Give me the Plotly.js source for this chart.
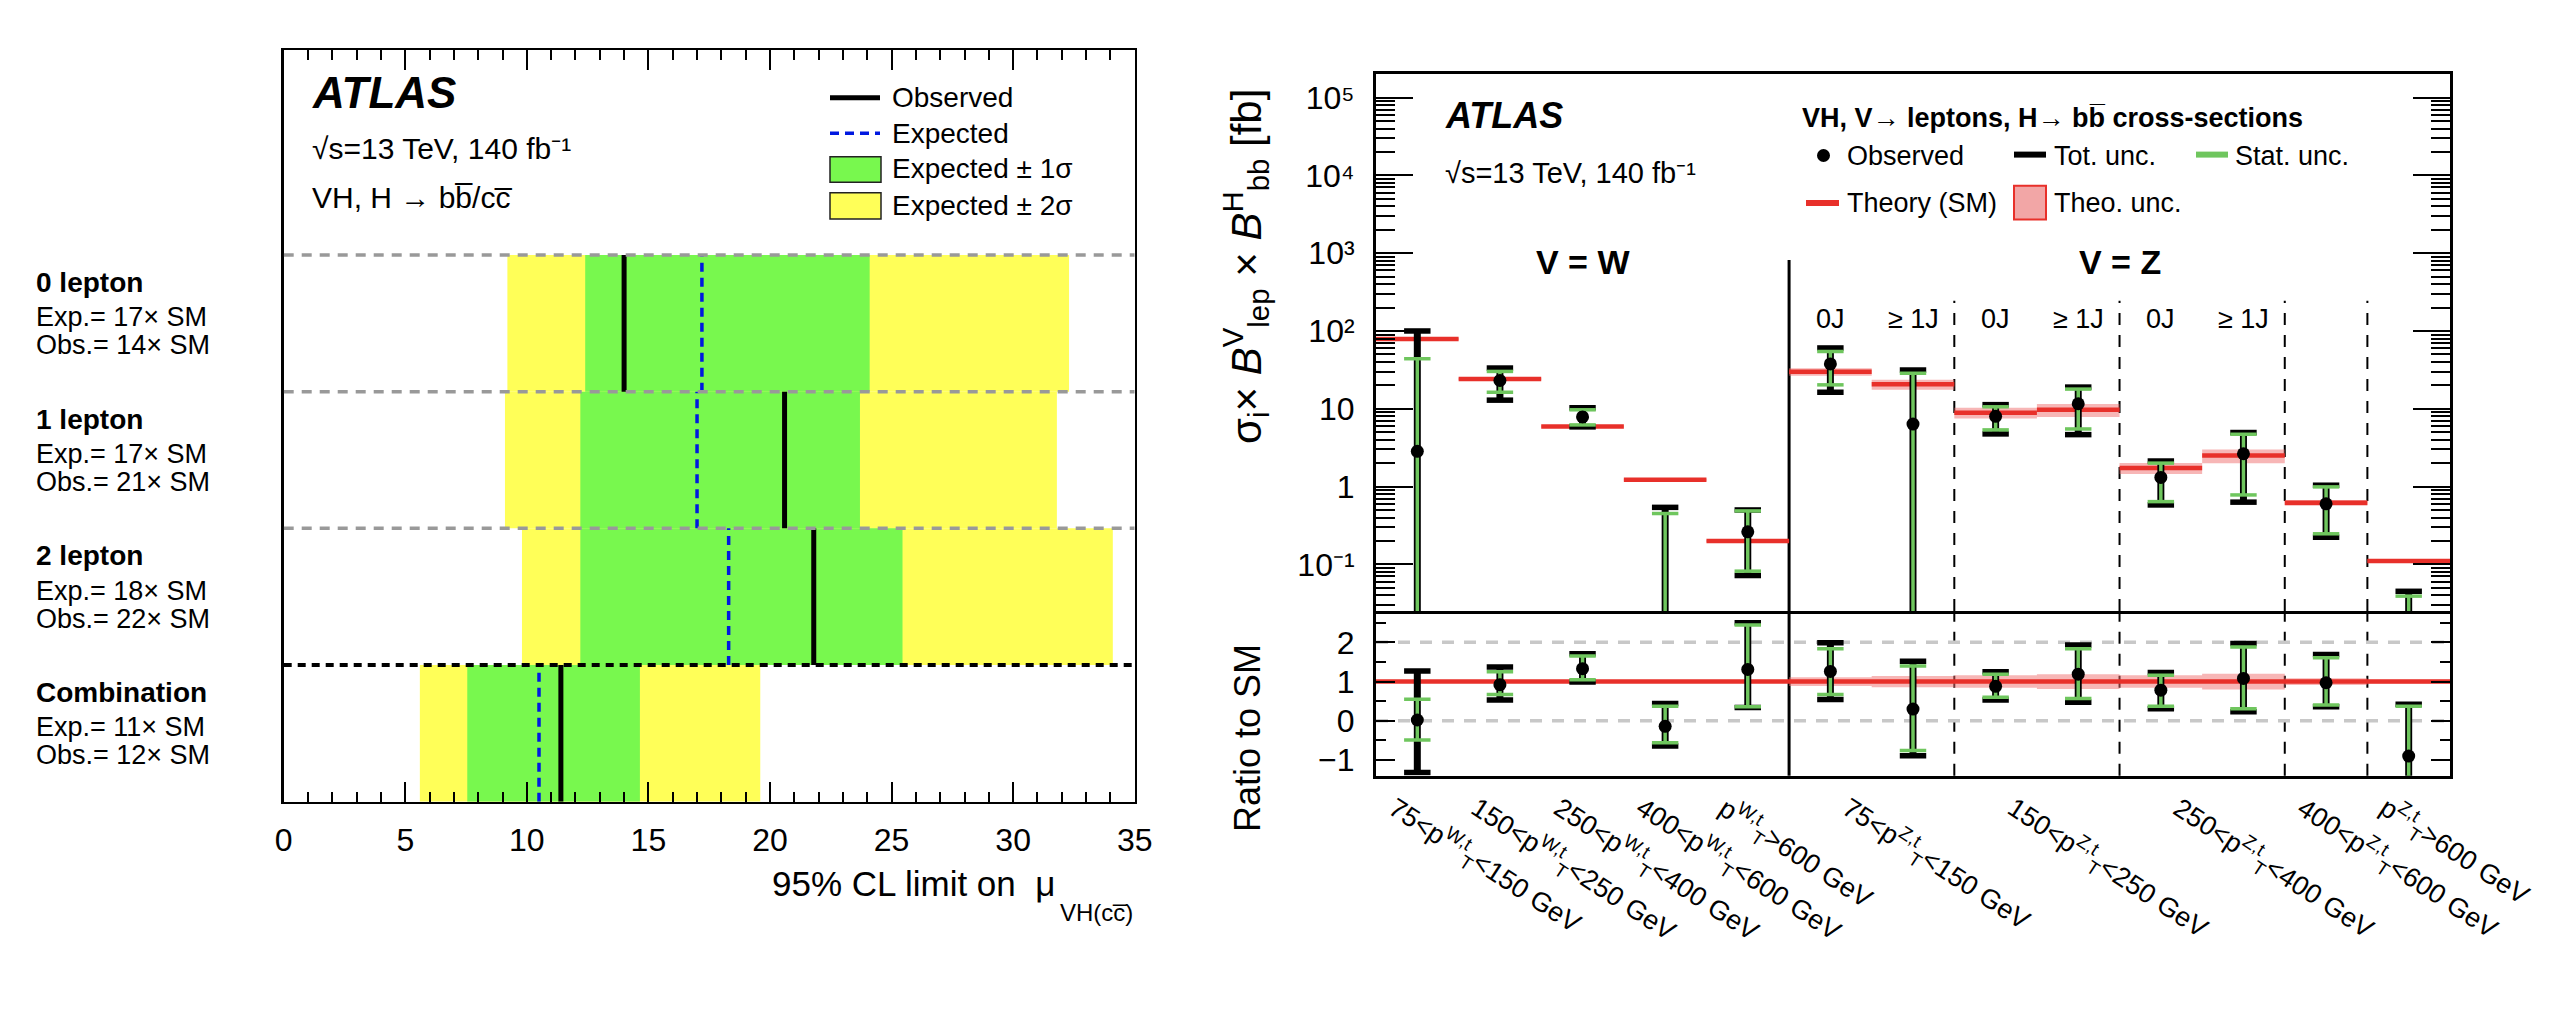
<!DOCTYPE html>
<html>
<head>
<meta charset="utf-8">
<script src="https://cdn.plot.ly/plotly-3.0.1.min.js"></script>
<style>html,body{margin:0;padding:0;background:#fff;}#plot{width:2560px;height:1024px;}</style>
</head>
<body>
<div id="plot"></div>
<script>
// ---------------- LEFT PANEL DATA (95% CL limits on mu_VH(cc)) ----------------
const rowNames   = ['0 lepton', '1 lepton', '2 lepton', 'Combination'];
const expSM      = [17, 17, 18, 11];
const obsSM      = [14, 21, 22, 12];
const expLimit   = [17.2, 17.0, 18.3, 10.5];
const obsLimit   = [14.0, 20.6, 21.8, 11.4];
const sig1Lo     = [12.4, 12.2, 12.2, 7.55];
const sig1Hi     = [24.1, 23.7, 25.45, 14.65];
const sig2Lo     = [9.2, 9.1, 9.8, 5.6];
const sig2Hi     = [32.3, 31.8, 34.1, 19.6];
const limitTicks = [0, 5, 10, 15, 20, 25, 30, 35];

// ---------------- RIGHT PANEL DATA (VH, H->bb cross-sections) ----------------
const binNames = ['W 75-150', 'W 150-250', 'W 250-400', 'W 400-600', 'W >600',
                  'Z 75-150 0J', 'Z 75-150 >=1J', 'Z 150-250 0J', 'Z 150-250 >=1J',
                  'Z 250-400 0J', 'Z 250-400 >=1J', 'Z 400-600', 'Z >600'];
const jetLabels = ['', '', '', '', '', '0J', '\u2265 1J', '0J', '\u2265 1J', '0J', '\u2265 1J', '', ''];
const theoryXS  = [79, 24.2, 5.9, 1.22, 0.199, 29.9, 20.6, 8.9, 9.7, 1.73, 2.5, 0.618, 0.11];
const theoUnc   = [0.03, 0.03, 0.03, 0.03, 0.03, 0.11, 0.145, 0.16, 0.19, 0.16, 0.2, 0.085, 0.05];
const xsObs     = [2.84, 23.1, 7.85, null, 0.262, 37.7, 6.35, 8.0, 11.6, 1.31, 2.64, 0.60, null];
const xsTotHi   = [100, 33.4, 10.3, 0.54, 0.50, 60.5, 31.5, 11.3, 19.0, 2.13, 4.95, 1.04, 0.045];
const xsTotLo   = [null, 12.9, 5.85, null, 0.0718, 16.3, null, 4.75, 4.65, 0.58, 0.63, 0.223, null];
const xsStatHi  = [44, 30.2, 9.7, 0.45, 0.486, 54.5, 28.6, 10.6, 17.9, 2.0, 4.7, 0.99, 0.039];
const xsStatLo  = [null, 16.3, 6.2, null, 0.0817, 20.3, null, 5.35, 5.5, 0.64, 0.78, 0.247, null];
const rObs      = [0.02, 0.92, 1.33, -0.14, 1.31, 1.26, 0.30, 0.88, 1.19, 0.78, 1.08, 0.97, -0.90];
const rTotHi    = [1.27, 1.37, 1.71, 0.44, 2.50, 1.99, 1.52, 1.25, 1.93, 1.23, 1.97, 1.69, 0.42];
const rTotLo    = [-1.32, 0.53, 0.99, -0.64, 0.34, 0.54, -0.89, 0.53, 0.47, 0.31, 0.23, 0.36, null];
const rStatHi   = [0.55, 1.25, 1.65, 0.37, 2.44, 1.84, 1.40, 1.19, 1.84, 1.16, 1.88, 1.61, 0.37];
const rStatLo   = [-0.49, 0.67, 1.05, -0.56, 0.36, 0.67, -0.76, 0.60, 0.57, 0.37, 0.31, 0.40, null];
// x-axis label groups (first bin, last bin+1)
const labelGroups = [[0,1],[1,2],[2,3],[3,4],[4,5],[5,7],[7,9],[9,11],[11,12],[12,13]];
const labelTexts = [
  '75&lt;p<sup>W,t</sup><sub>T</sub>&lt;150 GeV',
  '150&lt;p<sup>W,t</sup><sub>T</sub>&lt;250 GeV',
  '250&lt;p<sup>W,t</sup><sub>T</sub>&lt;400 GeV',
  '400&lt;p<sup>W,t</sup><sub>T</sub>&lt;600 GeV',
  'p<sup>W,t</sup><sub>T</sub>&gt;600 GeV',
  '75&lt;p<sup>Z,t</sup><sub>T</sub>&lt;150 GeV',
  '150&lt;p<sup>Z,t</sup><sub>T</sub>&lt;250 GeV',
  '250&lt;p<sup>Z,t</sup><sub>T</sub>&lt;400 GeV',
  '400&lt;p<sup>Z,t</sup><sub>T</sub>&lt;600 GeV',
  'p<sup>Z,t</sup><sub>T</sub>&gt;600 GeV'
];
const logTickVals = [0.1, 1, 10, 100, 1000, 10000, 100000];
const logTickText = ['10\u207B\u00B9', '1', '10', '10\u00B2', '10\u00B3', '10\u2074', '10\u2075'];
const ratioTickVals = [-1, 0, 1, 2];
const ratioTickText = ['\u22121', '0', '1', '2'];
const ratioRefLines = [0, 2];
const dividers = [5, 7, 9, 11, 12];   // first is the W/Z boundary (solid)
const vGroups = [{text: 'V = W', first: 0, last: 5}, {text: 'V = Z', first: 5, last: 13}];

// ---------------- helpers ----------------
const W = 2560, H = 1024;
const px = x => x / W;
const py = y => 1 - y / H;
const FONT = 'Liberation Sans, Arial, Helvetica, sans-serif';
const GREEN1 = '#78f84e', YELLOW2 = '#ffff58', STAT = '#6fc65e', RED = '#e8302a', PINK = 'rgba(240,110,110,0.5)';

const nBins = binNames.length;
const centers = binNames.map((_, i) => i + 0.5);

function vsegs(lo, hi, fallback) {
  const x = [], y = [];
  centers.forEach((c, i) => {
    if (hi[i] == null) return;
    x.push(c, c, null);
    y.push(lo[i] == null ? fallback : lo[i], hi[i], null);
  });
  return {x, y};
}
function caps(vals, hw) {
  const x = [], y = [];
  centers.forEach((c, i) => {
    if (vals[i] == null) return;
    x.push(c - hw, c + hw, null);
    y.push(vals[i], vals[i], null);
  });
  return {x, y};
}
function errTraces(lo, hi, slo, shi, obs, xa, ya, fallback) {
  const hw = 0.16;
  const out = [];
  const t = vsegs(lo, hi, fallback);
  out.push({type: 'scatter', mode: 'lines', x: t.x, y: t.y, xaxis: xa, yaxis: ya, line: {color: '#000', width: 7}, hoverinfo: 'skip'});
  const tc1 = caps(hi, hw), tc2 = caps(lo, hw);
  out.push({type: 'scatter', mode: 'lines', x: tc1.x.concat(tc2.x), y: tc1.y.concat(tc2.y), xaxis: xa, yaxis: ya, line: {color: '#000', width: 5.5}, hoverinfo: 'skip'});
  const s = vsegs(slo, shi, fallback);
  out.push({type: 'scatter', mode: 'lines', x: s.x, y: s.y, xaxis: xa, yaxis: ya, line: {color: STAT, width: 3.5}, hoverinfo: 'skip'});
  const sc1 = caps(shi, hw), sc2 = caps(slo, hw);
  out.push({type: 'scatter', mode: 'lines', x: sc1.x.concat(sc2.x), y: sc1.y.concat(sc2.y), xaxis: xa, yaxis: ya, line: {color: STAT, width: 3.5}, hoverinfo: 'skip'});
  out.push({type: 'scatter', mode: 'markers', x: centers, y: obs, xaxis: xa, yaxis: ya, marker: {color: '#000', size: 13}, hoverinfo: 'skip'});
  return out;
}

const traces = [];

// ---------------- LEFT PANEL TRACES ----------------
const nRows = rowNames.length;
const rowY = rowNames.map((_, i) => nRows - i - 0.5);
traces.push({type: 'bar', orientation: 'h', y: rowY, base: sig2Lo, x: sig2Hi.map((h, i) => h - sig2Lo[i]),
  width: 1, marker: {color: YELLOW2, line: {width: 0}}, xaxis: 'x', yaxis: 'y', hoverinfo: 'skip'});
traces.push({type: 'bar', orientation: 'h', y: rowY, base: sig1Lo, x: sig1Hi.map((h, i) => h - sig1Lo[i]),
  width: 1, marker: {color: GREEN1, line: {width: 0}}, xaxis: 'x', yaxis: 'y', hoverinfo: 'skip'});
(function () {
  const ex = [], ey = [], ox = [], oy = [];
  rowY.forEach((yc, i) => {
    ex.push(expLimit[i], expLimit[i], null); ey.push(yc - 0.5, yc + 0.5, null);
    ox.push(obsLimit[i], obsLimit[i], null); oy.push(yc - 0.5, yc + 0.5, null);
  });
  traces.push({type: 'scatter', mode: 'lines', x: ex, y: ey, xaxis: 'x', yaxis: 'y', line: {color: '#0018e0', width: 3.5, dash: '9px,6px'}, hoverinfo: 'skip'});
  traces.push({type: 'scatter', mode: 'lines', x: ox, y: oy, xaxis: 'x', yaxis: 'y', line: {color: '#000', width: 5}, hoverinfo: 'skip'});
})();

// ---------------- RIGHT PANEL TRACES ----------------
(function () {
  const bx = [], by = [], rx = [], ry = [], lx = [], ly = [], rlx = [], rly = [];
  centers.forEach((c, i) => {
    const a = c - 0.5, b = c + 0.5, t = theoryXS[i], u = theoUnc[i];
    bx.push(a, b, b, a, a, null); by.push(t * (1 - u), t * (1 - u), t * (1 + u), t * (1 + u), t * (1 - u), null);
    rx.push(a, b, b, a, a, null); ry.push(1 - u, 1 - u, 1 + u, 1 + u, 1 - u, null);
    lx.push(a, b, null); ly.push(t, t, null);
    rlx.push(a, b); rly.push(1, 1);
  });
  traces.push({type: 'scatter', mode: 'lines', x: bx, y: by, fill: 'toself', fillcolor: PINK, line: {width: 0}, xaxis: 'x2', yaxis: 'y2', hoverinfo: 'skip'});
  traces.push({type: 'scatter', mode: 'lines', x: lx, y: ly, line: {color: RED, width: 4.5}, xaxis: 'x2', yaxis: 'y2', hoverinfo: 'skip'});
  traces.push({type: 'scatter', mode: 'lines', x: rx, y: ry, fill: 'toself', fillcolor: PINK, line: {width: 0}, xaxis: 'x3', yaxis: 'y3', hoverinfo: 'skip'});
  traces.push({type: 'scatter', mode: 'lines', x: rlx, y: rly, line: {color: RED, width: 4.5}, xaxis: 'x3', yaxis: 'y3', hoverinfo: 'skip'});
})();
errTraces(xsTotLo, xsTotHi, xsStatLo, xsStatHi, xsObs, 'x2', 'y2', 1e-3).forEach(t => traces.push(t));
errTraces(rTotLo, rTotHi, rStatLo, rStatHi, rObs, 'x3', 'y3', -5).forEach(t => traces.push(t));

// ---------------- SHAPES ----------------
const shapes = [];
rowNames.forEach((_, i) => {
  const top = nRows - i;
  const last = i === nRows - 1;
  shapes.push({type: 'line', xref: 'x', yref: 'y', x0: limitTicks[0], x1: limitTicks[limitTicks.length - 1], y0: top, y1: top,
    line: last ? {color: '#000', width: 4, dash: '8px,6px'} : {color: '#999', width: 3.5, dash: '10px,8px'}, layer: 'above'});
});
dividers.forEach((d, i) => {
  const solid = i === 0;
  shapes.push({type: 'line', xref: 'x2', yref: 'y2 domain', x0: d, x1: d, y0: 0, y1: solid ? 0.654 : 0.578,
    line: solid ? {color: '#000', width: 3} : {color: '#000', width: 2, dash: '12px,10px'}, layer: 'below'});
  shapes.push({type: 'line', xref: 'x3', yref: 'y3 domain', x0: d, x1: d, y0: 0, y1: 1,
    line: solid ? {color: '#000', width: 3} : {color: '#000', width: 2, dash: '12px,10px'}, layer: 'below'});
});
ratioRefLines.forEach(v => {
  shapes.push({type: 'line', xref: 'x3', yref: 'y3', x0: 0, x1: nBins, y0: v, y1: v, line: {color: '#c8c8c8', width: 3.5, dash: '12px,10px'}, layer: 'below'});
});
// left legend keys
shapes.push({type: 'line', xref: 'paper', yref: 'paper', x0: px(830), x1: px(880), y0: py(97.7), y1: py(97.7), line: {color: '#000', width: 5}});
shapes.push({type: 'line', xref: 'paper', yref: 'paper', x0: px(830), x1: px(880), y0: py(133.3), y1: py(133.3), line: {color: '#0018e0', width: 3.5, dash: '9px,6px'}});
shapes.push({type: 'rect', xref: 'paper', yref: 'paper', x0: px(830), x1: px(881), y0: py(182.3), y1: py(156.7), fillcolor: GREEN1, line: {color: '#222', width: 1.5}});
shapes.push({type: 'rect', xref: 'paper', yref: 'paper', x0: px(830), x1: px(881), y0: py(219), y1: py(192.7), fillcolor: YELLOW2, line: {color: '#222', width: 1.5}});
// right legend keys
shapes.push({type: 'circle', xref: 'paper', yref: 'paper', x0: px(1817), x1: px(1830), y0: py(162), y1: py(149), fillcolor: '#000', line: {width: 0}});
shapes.push({type: 'line', xref: 'paper', yref: 'paper', x0: px(2014), x1: px(2046), y0: py(154.6), y1: py(154.6), line: {color: '#000', width: 6}});
shapes.push({type: 'line', xref: 'paper', yref: 'paper', x0: px(2196), x1: px(2228), y0: py(154.6), y1: py(154.6), line: {color: STAT, width: 6}});
shapes.push({type: 'line', xref: 'paper', yref: 'paper', x0: px(1806), x1: px(1839), y0: py(202.9), y1: py(202.9), line: {color: RED, width: 6}});
shapes.push({type: 'rect', xref: 'paper', yref: 'paper', x0: px(2014), x1: px(2046), y0: py(219.6), y1: py(185.7), fillcolor: 'rgba(240,150,150,0.85)', line: {color: RED, width: 2}});

// ---------------- ANNOTATIONS ----------------
const anns = [];
function ann(text, x, y, size, o, f) {
  anns.push(Object.assign({text: text, x: px(x), y: py(y), xref: 'paper', yref: 'paper', showarrow: false,
    xanchor: 'left', yanchor: 'middle', font: Object.assign({family: FONT, size: size, color: '#000'}, f || {})}, o || {}));
}
const BOLD = {weight: 'bold'}, BOLDIT = {weight: 'bold', style: 'italic'};
// left panel
ann('ATLAS', 310, 92, 44, null, BOLDIT);
ann('\u221As=13 TeV, 140 fb\u207B\u00B9', 310, 148, 30);
ann('VH, H \u2192 bb\u0305/cc\u0305', 310, 197, 30);
ann('Observed', 890, 97.7, 28);
ann('Expected', 890, 133.3, 28);
ann('Expected \u00B1 1\u03C3', 890, 168.3, 28);
ann('Expected \u00B1 2\u03C3', 890, 205, 28);
ann('95% CL limit on  \u03BC', 1057, 883, 35, {xanchor: 'right'});
ann('VH(cc\u0305)', 1058, 912, 24);
rowNames.forEach((name, i) => {
  const top = nRows - i;
  const base = {xref: 'paper', yref: 'y', x: px(34), xanchor: 'left', yanchor: 'middle', showarrow: false};
  anns.push(Object.assign({}, base, {text: name, y: top - 0.2, font: {family: FONT, size: 28, color: '#000', weight: 'bold'}}));
  anns.push(Object.assign({}, base, {text: 'Exp.= ' + expSM[i] + '\u00D7 SM', y: top - 0.455, font: {family: FONT, size: 27, color: '#000'}}));
  anns.push(Object.assign({}, base, {text: 'Obs.= ' + obsSM[i] + '\u00D7 SM', y: top - 0.66, font: {family: FONT, size: 27, color: '#000'}}));
});
// right panel
ann('ATLAS', 1443, 115.4, 36, null, BOLDIT);
ann('\u221As=13 TeV, 140 fb\u207B\u00B9', 1443, 172.5, 29);
ann('VH, V\u2192 leptons, H\u2192 bb\u0305 cross-sections', 1800, 118.3, 27, null, BOLD);
ann('Observed', 1845, 155.7, 27);
ann('Tot. unc.', 2052, 155.7, 27);
ann('Stat. unc.', 2233, 155.7, 27);
ann('Theory (SM)', 1845, 202.9, 27);
ann('Theo. unc.', 2052, 202.9, 27);
vGroups.forEach(g => {
  anns.push({text: g.text, xref: 'x2', yref: 'paper', x: g.text === 'V = W' ? (g.first + g.last) / 2 : dividers[1] + 2,
    y: py(262), showarrow: false, xanchor: 'center', yanchor: 'middle', font: {family: FONT, size: 34, color: '#000', weight: 'bold'}});
});
jetLabels.forEach((t, i) => {
  if (!t) return;
  anns.push({text: t, xref: 'x2', yref: 'paper', x: centers[i], y: py(319), showarrow: false, xanchor: 'center', yanchor: 'middle',
    font: {family: FONT, size: 27, color: '#000'}});
});
// bin labels under the ratio panel (rotated)
labelGroups.forEach((g, i) => {
  anns.push({text: labelTexts[i], xref: 'x3', yref: 'paper', x: (g[0] + g[1]) / 2 - 0.47, y: py(786), showarrow: false,
    xanchor: 'left', yanchor: 'top', textangle: 33, font: {family: FONT, size: 27, color: '#000'}});
});
ann('\u03C3<sub>i</sub>\u00D7 <i>B</i><sup>V</sup><sub>lep</sub> \u00D7 <i>B</i><sup>H</sup><sub>bb</sub> [fb]', 1245, 267, 42, {xanchor: 'center', textangle: -90});
ann('Ratio to SM', 1247, 738, 36, {xanchor: 'center', textangle: -90});

// ---------------- AXES ----------------
const tickFont = {family: FONT, size: 32, color: '#000'};
function minorLog() {
  const v = [];
  for (let e = -2; e <= 5; e++) for (let m = 2; m <= 9; m++) v.push(m * Math.pow(10, e));
  return v;
}

const layout = {
  width: W, height: H, margin: {l: 0, r: 0, t: 0, b: 0}, autosize: false,
  paper_bgcolor: '#fff', plot_bgcolor: 'rgba(0,0,0,0)', showlegend: false, barmode: 'overlay',
  font: {family: FONT, color: '#000'},
  xaxis: {domain: [px(283.7), px(1134.7)], anchor: 'y', range: [0, 35], tickvals: limitTicks, ticks: 'inside', ticklen: 20, tickwidth: 2,
    tickcolor: '#000', mirror: 'ticks', showline: true, linecolor: '#000', linewidth: 2.5, showgrid: false, zeroline: false,
    tickfont: tickFont, ticklabelstandoff: 8, minor: {dtick: 1, ticks: 'inside', ticklen: 10, tickwidth: 2, tickcolor: '#000', showgrid: false}},
  yaxis: {domain: [py(801.7), py(50)], anchor: 'x', range: [0, 5.5], showticklabels: false, ticks: '', showline: true, mirror: true,
    linecolor: '#000', linewidth: 2.5, showgrid: false, zeroline: false},
  xaxis2: {domain: [px(1376), px(2450)], anchor: 'y2', range: [0, nBins], showticklabels: false, ticks: '', showline: true, mirror: true,
    linecolor: '#000', linewidth: 3, showgrid: false, zeroline: false},
  yaxis2: {domain: [py(611), py(74.3)], anchor: 'x2', type: 'log', range: [-1.6, 5.3], tickmode: 'array', tickvals: logTickVals, ticktext: logTickText,
    ticks: 'inside', ticklen: 37, tickwidth: 2, tickcolor: '#000', mirror: 'ticks', showline: true, linecolor: '#000', linewidth: 3,
    showgrid: false, zeroline: false, tickfont: tickFont, ticklabelstandoff: 12,
    minor: {tickmode: 'array', tickvals: minorLog(), ticks: 'inside', ticklen: 19, tickwidth: 2, tickcolor: '#000', showgrid: false}},
  xaxis3: {domain: [px(1376), px(2450)], anchor: 'y3', range: [0, nBins], showticklabels: false,
    ticks: '', showline: true, mirror: false, linecolor: '#000', linewidth: 3, showgrid: false, zeroline: false},
  yaxis3: {domain: [py(775.7), py(611)], anchor: 'x3', range: [-1.4, 2.8], tickmode: 'array', tickvals: ratioTickVals, ticktext: ratioTickText,
    ticks: 'inside', ticklen: 19, tickwidth: 2, tickcolor: '#000', mirror: 'ticks', showline: true, linecolor: '#000', linewidth: 3,
    showgrid: false, zeroline: false, tickfont: tickFont, ticklabelstandoff: 12,
    minor: {dtick: 0.5, tick0: 0, ticks: 'inside', ticklen: 10, tickwidth: 2, tickcolor: '#000', showgrid: false}},
  shapes: shapes,
  annotations: anns
};

Plotly.newPlot('plot', traces, layout, {staticPlot: true, displayModeBar: false});
</script>
</body>
</html>
